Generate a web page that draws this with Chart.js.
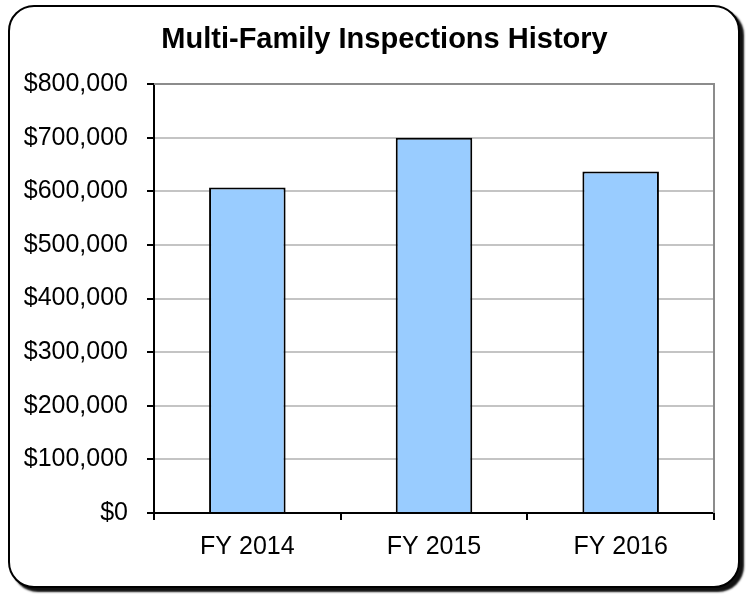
<!DOCTYPE html>
<html>
<head>
<meta charset="utf-8">
<script src="https://cdn.jsdelivr.net/npm/chart.js@4"></script>
<style>
body{margin:0;background:#fff;}
#frame{position:absolute;left:8px;top:5px;width:728px;height:579px;border:2px solid #000;border-radius:26px;box-shadow:4px 4px 2px #111;background:#fff;}
#wrap{position:absolute;left:0;top:0;width:751px;height:594px;}
</style>
</head>
<body>
<div id="frame"></div>
<div id="wrap"><canvas id="chart" width="751" height="594"></canvas></div>
<script>
/* data */
const categories = ["FY 2014","FY 2015","FY 2016"]
const inspections = [607000,700000,637000]
const yTicks = [0,100000,200000,300000,400000,500000,600000,700000,800000]
const titleText = "Multi-Family Inspections History"

/* gray border on top + right of plot, and the title */
const plotBorder = {
id:"plotBorder",
beforeDatasetsDraw(chart){
const a = chart.chartArea
const ctx = chart.ctx
ctx.save()
ctx.strokeStyle = "#8c8c8c"
ctx.lineWidth = 2
ctx.beginPath()
ctx.moveTo(a.left,a.top)
ctx.lineTo(a.right,a.top)
ctx.lineTo(a.right,a.bottom)
ctx.stroke()
ctx.restore()
},
afterDraw(chart){
const ctx = chart.ctx
ctx.save()
ctx.fillStyle = "#000"
ctx.font = "bold 29px 'Liberation Sans', Arial"
ctx.textAlign = "center"
ctx.textBaseline = "alphabetic"
ctx.fillText(titleText,384.5,48)
ctx.restore()
}
}

new Chart(document.getElementById("chart"),{
type:"bar",
data:{
labels:categories,
datasets:[{
data:inspections,
backgroundColor:"#99CCFF",
borderColor:"#000",
borderWidth:2,
categoryPercentage:1,
barPercentage:0.41
}]
},
options:{
responsive:false,
animation:false,
layout:{padding:{left:0,right:37,top:84,bottom:0}},
plugins:{
legend:{display:false},
tooltip:{enabled:false},
title:{display:false}
},
scales:{
x:{
afterFit(s){ s.height = 81 },
grid:{drawOnChartArea:false,drawTicks:true,tickLength:7,tickColor:"#000",lineWidth:2,offset:true},
border:{color:"#000",width:2},
ticks:{color:"#000",padding:12,font:{family:"Liberation Sans, Arial",size:25}}
},
y:{
min:0,
max:800000,
afterFit(s){ s.width = 154 },
afterBuildTicks(s){ s.ticks = yTicks.map(v=>({value:v})) },
grid:{color:"#c4c4c4",lineWidth:2,tickLength:7,tickColor:"#000"},
border:{color:"#000",width:2},
ticks:{
color:"#000",
padding:19,
font:{family:"Liberation Sans, Arial",size:25},
callback:(v)=>"$" + v.toLocaleString("en-US")
}
}
}
},
plugins:[plotBorder]
})
</script>
</body>
</html>
